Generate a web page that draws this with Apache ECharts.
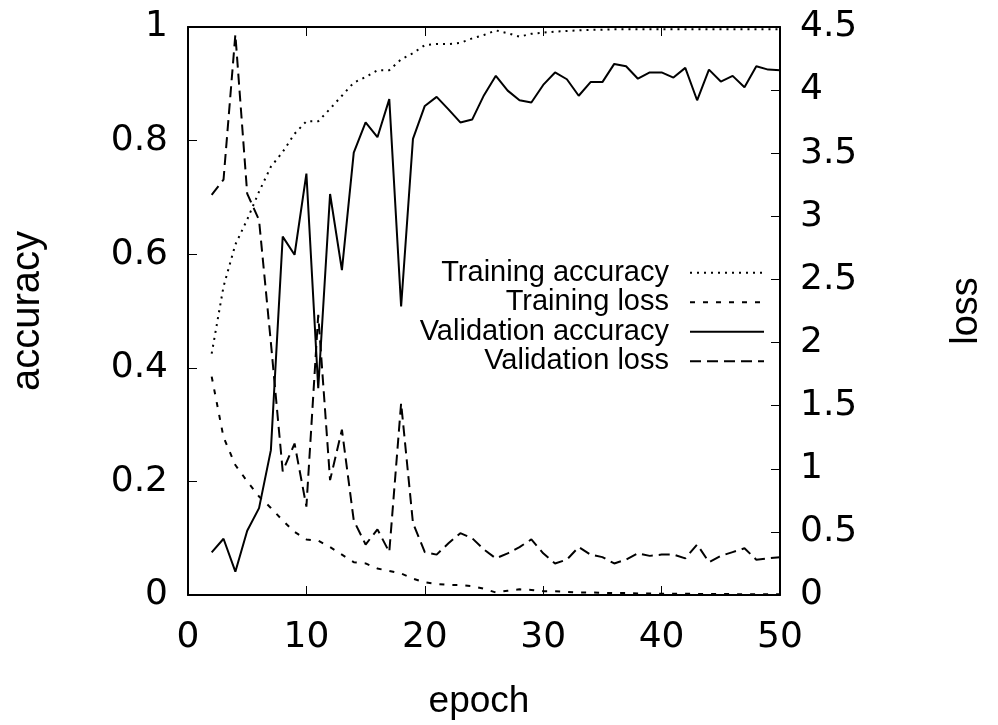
<!DOCTYPE html>
<html>
<head>
<meta charset="utf-8">
<script src="https://cdn.jsdelivr.net/npm/echarts@6/dist/echarts.min.js"></script>
<style>
  html, body { margin: 0; padding: 0; background: #fff; }
  #chart { width: 998px; height: 725px; }
</style>
</head>
<body>
<div id="chart"></div>
<script>
// epochs and curves
var epochs = [2, 3, 4, 5, 6, 7, 8, 9, 10, 11, 12, 13, 14, 15, 16, 17, 18, 19, 20, 21, 22, 23, 24, 25, 26,
	27, 28, 29, 30, 31, 32, 33, 34, 35, 36, 37, 38, 39, 40, 41, 42, 43, 44, 45, 46, 47, 48, 49, 50];

var trainAcc = [0.425, 0.543, 0.617, 0.661, 0.710, 0.754, 0.780, 0.812, 0.834, 0.834, 0.856, 0.879, 0.902, 0.912,
	0.924, 0.924, 0.943, 0.954, 0.968, 0.970, 0.970, 0.972, 0.980, 0.986, 0.994, 0.989, 0.983, 0.988, 0.990,
	0.992, 0.993, 0.994, 0.995, 0.995, 0.996, 0.996, 0.996, 0.996, 0.996, 0.996, 0.996, 0.996, 0.996, 0.996,
	0.996, 0.996, 0.996, 0.996, 0.996];

var trainLoss = [1.73, 1.25, 1.03, 0.90, 0.78, 0.69, 0.59, 0.50, 0.44, 0.43, 0.38, 0.32, 0.26, 0.25, 0.21, 0.19,
	0.17, 0.13, 0.10, 0.087, 0.08, 0.08, 0.07, 0.05, 0.02, 0.034, 0.045, 0.04, 0.03, 0.03, 0.025, 0.02, 0.02,
	0.018, 0.015, 0.015, 0.012, 0.012, 0.01, 0.01, 0.01, 0.008, 0.008, 0.008, 0.007, 0.006, 0.006, 0.005, 0.005];

var valAcc = [0.075, 0.099, 0.041, 0.113, 0.153, 0.255, 0.631, 0.599, 0.742, 0.364, 0.706, 0.572, 0.779, 0.832,
	0.806, 0.873, 0.508, 0.803, 0.861, 0.877, 0.855, 0.832, 0.837, 0.880, 0.914, 0.888, 0.871, 0.867, 0.898,
	0.920, 0.908, 0.879, 0.903, 0.903, 0.935, 0.931, 0.909, 0.920, 0.920, 0.911, 0.928, 0.871, 0.925, 0.904,
	0.914, 0.894, 0.931, 0.925, 0.924];

var valLoss = [3.17, 3.29, 4.44, 3.18, 2.97, 2.0, 0.98, 1.20, 0.70, 2.22, 0.91, 1.31, 0.59, 0.40, 0.52, 0.34,
	1.52, 0.57, 0.34, 0.32, 0.41, 0.49, 0.45, 0.36, 0.29, 0.33, 0.38, 0.44, 0.33, 0.25, 0.28, 0.38, 0.32,
	0.30, 0.25, 0.28, 0.33, 0.31, 0.32, 0.32, 0.29, 0.40, 0.26, 0.31, 0.34, 0.37, 0.28, 0.29, 0.30];

var xTicks = { min: 0, max: 50, step: 10 };
var names = ['Training accuracy', 'Training loss', 'Validation accuracy', 'Validation loss'];

var FONT = 'Liberation Sans, Arial, Helvetica, sans-serif';
var TICKFONT = 'DejaVu Sans, Liberation Sans, sans-serif';

function pairs(ys){
	var out = [];
	for (var i = 0; i < epochs.length; i++) {
		out.push([epochs[i], ys[i]]);
	}
	return out;
}

function mkLine(name, ys, yIdx, dash){
	return {
		name: name,
		type: 'line',
		yAxisIndex: yIdx,
		data: pairs(ys),
		symbol: 'none',
		lineStyle: { color: '#000', width: 2, type: dash },
		itemStyle: { color: '#000' }
	};
}

var chart = echarts.init(document.getElementById('chart'));

// gnuplot style: ticks point into the plot, frame all round
var tickStyle = { show: true, inside: true, length: 9, lineStyle: { color: '#000', width: 1 } };
var lineAxis = { show: true, onZero: false, lineStyle: { color: '#000', width: 2 } };
var labelStyle = { fontFamily: TICKFONT, fontSize: 36, color: '#000' };

option = {
	animation: false,
	backgroundColor: '#fff',
	grid: { left: 187, right: 218, top: 27, bottom: 130 },
	legend: {
		data: names,
		orient: 'vertical',
		align: 'right',
		right: 228,
		top: 253,
		itemWidth: 74,
		itemHeight: 2,
		itemGap: 0,
		itemStyle: { opacity: 0, borderWidth: 0 },
		textStyle: { fontFamily: FONT, fontSize: 29, color: '#000', lineHeight: 29.5, padding: [0, 16, 0, 0] }
	},
	xAxis: [
		{
			type: 'value',
			min: xTicks.min,
			max: xTicks.max,
			interval: xTicks.step,
			name: 'epoch',
			nameLocation: 'middle',
			nameGap: 88,
			nameTextStyle: { fontFamily: FONT, fontSize: 37, color: '#000', padding: [0, 10, 0, 0] },
			axisLine: lineAxis,
			axisTick: tickStyle,
			axisLabel: Object.assign({ margin: 25 }, labelStyle),
			splitLine: { show: false }
		},
		{
			type: 'value',
			position: 'top',
			min: xTicks.min,
			max: xTicks.max,
			interval: xTicks.step,
			axisLine: lineAxis,
			axisTick: tickStyle,
			axisLabel: { show: false },
			splitLine: { show: false }
		}
	],
	yAxis: [
		{
			type: 'value',
			position: 'left',
			min: 0,
			max: 1,
			interval: 0.2,
			name: 'accuracy',
			nameLocation: 'middle',
			nameRotate: 90,
			nameGap: 140,
			nameTextStyle: { fontFamily: FONT, fontSize: 40, color: '#000' },
			axisLine: lineAxis,
			axisTick: tickStyle,
			axisLabel: Object.assign({ margin: 20 }, labelStyle),
			splitLine: { show: false }
		},
		{
			type: 'value',
			position: 'right',
			min: 0,
			max: 4.5,
			interval: 0.5,
			name: 'loss',
			nameLocation: 'middle',
			nameRotate: 90,
			nameGap: 168,
			nameTextStyle: { fontFamily: FONT, fontSize: 38, color: '#000' },
			axisLine: lineAxis,
			axisTick: tickStyle,
			axisLabel: Object.assign({ margin: 20 }, labelStyle),
			splitLine: { show: false }
		}
	],
	series: [
		mkLine(names[0], trainAcc, 0, [2, 5]),
		mkLine(names[1], trainLoss, 1, [5, 8]),
		mkLine(names[2], valAcc, 0, 'solid'),
		mkLine(names[3], valLoss, 1, [11, 6])
	]
};
chart.setOption(option);
</script>
</body>
</html>
